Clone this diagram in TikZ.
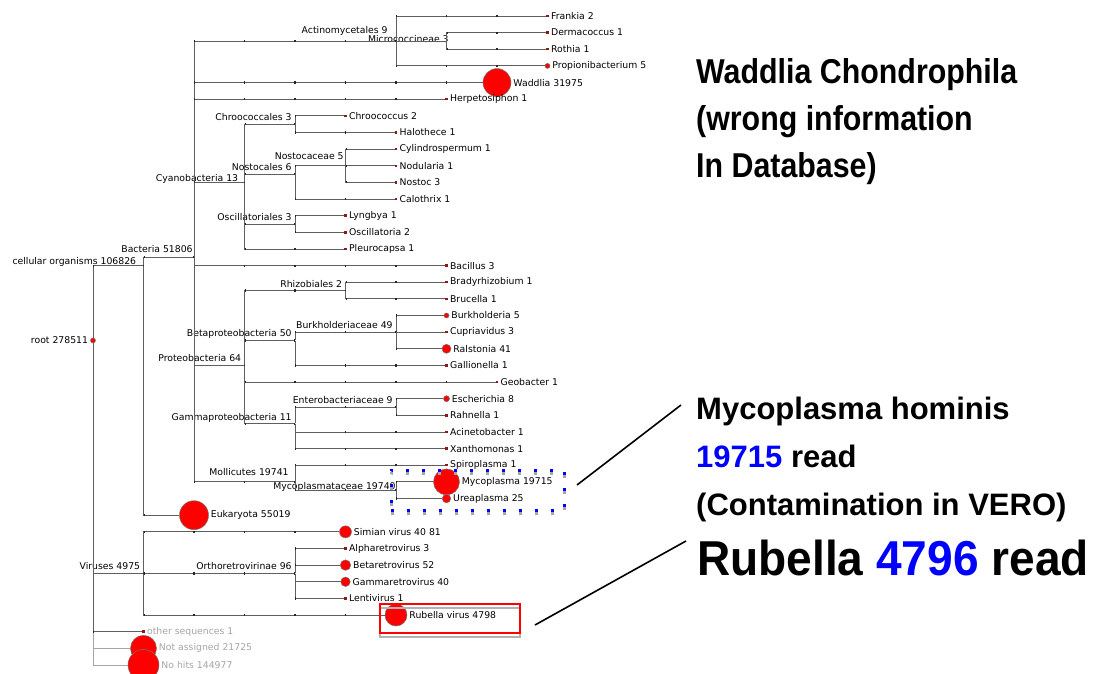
\documentclass[tikz,border=0pt]{standalone}
\usepackage{fontspec}
\setmainfont{DejaVu Sans}
\newfontfamily\notefont[FakeStretch=0.88]{Liberation Sans}
\newfontfamily\widenotefont{Liberation Sans}
\newfontfamily\bignotefont[FakeStretch=0.94]{Liberation Sans}
\usepackage{xcolor}
\usepackage{tikz}
\definecolor{treeGrey}{RGB}{95,95,95}
\definecolor{tipRed}{RGB}{140,25,25}
\definecolor{hitRed}{RGB}{255,0,0}
\definecolor{faintGrey}{RGB}{165,165,165}
\definecolor{noteBlue}{RGB}{0,0,255}

\begin{document}
\begin{tikzpicture}[
  x=1pt, y=-1pt,
  font=\fontsize{9.3}{11}\selectfont,
  junction/.style={inner sep=0pt, minimum size=0pt},
  tip/.style={rectangle, fill=tipRed, inner sep=0pt, minimum size=2.4pt},
  hit/.style={circle, fill=hitRed, draw=black!55, line width=0.5pt, inner sep=0pt, minimum size=#1},
  leaflab/.style={inner sep=0.5pt, label distance=1.5pt},
  faintlab/.style={leaflab, text=faintGrey},
  intlab/.style={anchor=base east, inner sep=0pt, xshift=-3pt, yshift=3.5pt},
  edge/.style={draw=treeGrey, line width=0.9pt},
  faintedge/.style={draw=faintGrey, line width=0.9pt},
  ticks/.style={draw=black!85, line width=2.2pt, dash pattern=on 1.6pt off 48.9pt, dash phase=0.8pt},
  note/.style={align=left, inner sep=0pt},
  dotbox/.style={draw=noteBlue, line width=3pt, dash pattern=on 3pt off 13pt,
                 minimum width=173pt, minimum height=40pt, inner sep=0pt},
  dotboxshade/.style={dotbox, draw=black!35, yshift=-3pt},
  redbox/.style={draw=hitRed, line width=1.5pt, minimum width=140pt, minimum height=29pt, inner sep=0pt},
  redboxshade/.style={redbox, draw=black!30, yshift=-4pt},
  callout/.style={draw=black, line width=1.6pt}
]
\useasboundingbox (0,0) rectangle (1096,674);

\begin{scope}[x=50.5pt, y=-16.64pt, shift={(93pt,-16pt)}]
% inner taxa
\node[hit=5pt, label={[leaflab]left:root 278511}] (root) at (0,19.5) {};
\node[junction, label={[intlab, xshift=-4pt, yshift=-2.5pt]left:cellular organisms 106826}] (cellular) at (1,15) {};
\node[junction, label={[intlab, xshift=2pt, yshift=1pt]left:Bacteria 51806}] (bacteria) at (2,14.5) {};
\node[junction, label={[intlab, xshift=-5pt, yshift=4pt]left:Actinomycetales 9}] (actino) at (6,1.5) {};
\node[junction, label={[intlab, xshift=5.5pt, yshift=-5pt]left:Micrococcineae 3}] (micro) at (7,1.5) {};
\node[junction, label={[intlab, xshift=-3pt, yshift=-3pt]left:Cyanobacteria 13}] (cyano) at (3,10) {};
\node[junction, label={[intlab]left:Chroococcales 3}] (chrooc) at (4,6.5) {};
\node[junction, label={[intlab]left:Nostocales 6}] (nostocales) at (4,9.5) {};
\node[junction, label={[intlab, xshift=1.5pt, yshift=3pt]left:Nostocaceae 5}] (nostocaceae) at (5,9) {};
\node[junction, label={[intlab]left:Oscillatoriales 3}] (oscill) at (4,12.5) {};
\node[junction, label={[intlab]left:Proteobacteria 64}] (proteo) at (3,21) {};
\node[junction, label={[intlab]left:Rhizobiales 2}] (rhizo) at (5,16.5) {};
\node[junction, label={[intlab]left:Betaproteobacteria 50}] (betaproteo) at (4,19.5) {};
\node[junction, label={[intlab]left:Burkholderiaceae 49}] (burkhold) at (6,19) {};
\node[junction, label={[intlab]left:Gammaproteobacteria 11}] (gammaproteo) at (4,24.5) {};
\node[junction, label={[intlab]left:Enterobacteriaceae 9}] (entero) at (6,23.5) {};
\node[junction, label={[intlab, xshift=-3pt, yshift=3pt]left:Mollicutes 19741}] (mollicutes) at (4,28) {};
\node[junction, label={[intlab, xshift=3pt, yshift=-3pt]left:Mycoplasmataceae 19740}] (mycoplasmat) at (6,28.5) {};
\node[junction, label={[intlab]left:Viruses 4975}] (viruses) at (1,33.5) {};
\node[junction, label={[intlab]left:Orthoretrovirinae 96}] (orthoretro) at (4,33.5) {};

% leaves
\node[tip, label={[leaflab]right:Frankia 2}] (frankia) at (9,0) {};
\node[tip, label={[leaflab]right:Dermacoccus 1}] (dermaco) at (9,1) {};
\node[tip, label={[leaflab]right:Rothia 1}] (rothia) at (9,2) {};
\node[hit=5pt, label={[leaflab]right:Propionibacterium 5}] (propioni) at (9,3) {};
\node[hit=28pt, label={[leaflab]right:Waddlia 31975}] (waddlia) at (8,4) {};
\node[tip, label={[leaflab]right:Herpetosiphon 1}] (herpeto) at (7,5) {};
\node[tip, label={[leaflab]right:Chroococcus 2}] (chroococcus) at (5,6) {};
\node[tip, label={[leaflab]right:Halothece 1}] (halothece) at (6,7) {};
\node[tip, label={[leaflab]right:Cylindrospermum 1}] (cylindro) at (6,8) {};
\node[tip, label={[leaflab]right:Nodularia 1}] (nodularia) at (6,9) {};
\node[tip, label={[leaflab]right:Nostoc 3}] (nostoc) at (6,10) {};
\node[tip, label={[leaflab]right:Calothrix 1}] (calothrix) at (6,11) {};
\node[tip, label={[leaflab]right:Lyngbya 1}] (lyngbya) at (5,12) {};
\node[tip, label={[leaflab]right:Oscillatoria 2}] (oscillatoria) at (5,13) {};
\node[tip, label={[leaflab]right:Pleurocapsa 1}] (pleuro) at (5,14) {};
\node[tip, label={[leaflab]right:Bacillus 3}] (bacillus) at (7,15) {};
\node[tip, label={[leaflab]right:Bradyrhizobium 1}] (bradyrhizo) at (7,16) {};
\node[tip, label={[leaflab]right:Brucella 1}] (brucella) at (7,17) {};
\node[hit=5pt, label={[leaflab]right:Burkholderia 5}] (burkholderia) at (7,18) {};
\node[tip, label={[leaflab]right:Cupriavidus 3}] (cupriavidus) at (7,19) {};
\node[hit=9pt, label={[leaflab]right:Ralstonia 41}] (ralstonia) at (7,20) {};
\node[tip, label={[leaflab]right:Gallionella 1}] (gallionella) at (7,21) {};
\node[tip, label={[leaflab]right:Geobacter 1}] (geobacter) at (8,22) {};
\node[hit=6pt, label={[leaflab]right:Escherichia 8}] (escherichia) at (7,23) {};
\node[tip, label={[leaflab]right:Rahnella 1}] (rahnella) at (7,24) {};
\node[tip, label={[leaflab]right:Acinetobacter 1}] (acineto) at (7,25) {};
\node[tip, label={[leaflab]right:Xanthomonas 1}] (xantho) at (7,26) {};
\node[tip, label={[leaflab]right:Spiroplasma 1}] (spiro) at (7,27) {};
\node[hit=26pt, label={[leaflab]right:Mycoplasma 19715}] (mycoplasma) at (7,28) {};
\node[hit=8.5pt, label={[leaflab]right:Ureaplasma 25}] (ureaplasma) at (7,29) {};
\node[hit=29pt, label={[leaflab]right:Eukaryota 55019}] (eukaryota) at (2,30) {};
\node[hit=12pt, label={[leaflab]right:Simian virus 40 81}] (simian) at (5,31) {};
\node[tip, label={[leaflab]right:Alpharetrovirus 3}] (alpha) at (5,32) {};
\node[hit=10.5pt, label={[leaflab]right:Betaretrovirus 52}] (beta) at (5,33) {};
\node[hit=9.5pt, label={[leaflab]right:Gammaretrovirus 40}] (gamma) at (5,34) {};
\node[tip, label={[leaflab]right:Lentivirus 1}] (lenti) at (5,35) {};
\node[hit=22pt, label={[leaflab]right:Rubella virus 4798}] (rubella) at (6,36) {};
\node[tip, label={[faintlab]right:other sequences 1}] (other) at (1,37) {};
\node[hit=26pt, label={[faintlab]right:Not assigned 21725}] (notassigned) at (1,38) {};
\node[hit=31pt, label={[faintlab]right:No hits 144977}] (nohits) at (1,39) {};

% branches
\foreach \c in {notassigned, nohits} \draw[faintedge] (root) |- (\c);
\foreach \c in {cellular, viruses, other} \draw[edge] (root) |- (\c) (root |- \c) edge[ticks] (\c);
\foreach \c in {bacteria, eukaryota} \draw[edge] (cellular) |- (\c) (cellular |- \c) edge[ticks] (\c);
\foreach \c in {actino, waddlia, herpeto, cyano, bacillus, proteo, mollicutes}
  \draw[edge] (bacteria) |- (\c) (bacteria |- \c) edge[ticks] (\c);
\foreach \c in {frankia, micro, propioni} \draw[edge] (actino) |- (\c) (actino |- \c) edge[ticks] (\c);
\foreach \c in {dermaco, rothia} \draw[edge] (micro) |- (\c) (micro |- \c) edge[ticks] (\c);
\foreach \c in {chrooc, nostocales, oscill, pleuro} \draw[edge] (cyano) |- (\c) (cyano |- \c) edge[ticks] (\c);
\foreach \c in {chroococcus, halothece} \draw[edge] (chrooc) |- (\c) (chrooc |- \c) edge[ticks] (\c);
\foreach \c in {nostocaceae, calothrix} \draw[edge] (nostocales) |- (\c) (nostocales |- \c) edge[ticks] (\c);
\foreach \c in {cylindro, nodularia, nostoc} \draw[edge] (nostocaceae) |- (\c) (nostocaceae |- \c) edge[ticks] (\c);
\foreach \c in {lyngbya, oscillatoria} \draw[edge] (oscill) |- (\c) (oscill |- \c) edge[ticks] (\c);
\foreach \c in {rhizo, betaproteo, geobacter, gammaproteo} \draw[edge] (proteo) |- (\c) (proteo |- \c) edge[ticks] (\c);
\foreach \c in {bradyrhizo, brucella} \draw[edge] (rhizo) |- (\c) (rhizo |- \c) edge[ticks] (\c);
\foreach \c in {burkhold, gallionella} \draw[edge] (betaproteo) |- (\c) (betaproteo |- \c) edge[ticks] (\c);
\foreach \c in {burkholderia, cupriavidus, ralstonia} \draw[edge] (burkhold) |- (\c) (burkhold |- \c) edge[ticks] (\c);
\foreach \c in {entero, acineto, xantho} \draw[edge] (gammaproteo) |- (\c) (gammaproteo |- \c) edge[ticks] (\c);
\foreach \c in {escherichia, rahnella} \draw[edge] (entero) |- (\c) (entero |- \c) edge[ticks] (\c);
\foreach \c in {spiro, mycoplasmat} \draw[edge] (mollicutes) |- (\c) (mollicutes |- \c) edge[ticks] (\c);
\foreach \c in {mycoplasma, ureaplasma} \draw[edge] (mycoplasmat) |- (\c) (mycoplasmat |- \c) edge[ticks] (\c);
\foreach \c in {simian, orthoretro, rubella} \draw[edge] (viruses) |- (\c) (viruses |- \c) edge[ticks] (\c);
\foreach \c in {alpha, beta, gamma, lenti} \draw[edge] (orthoretro) |- (\c) (orthoretro |- \c) edge[ticks] (\c);
\end{scope}

% highlight boxes
\node[dotboxshade] (mycoshade) at (477.5,490) {};
\node[dotbox] (mycobox) at (477.5,490) {};
\node[redboxshade] (rubellashade) at (450,618.5) {};
\node[redbox] (rubellabox) at (450,618.5) {};

% notes
\node[note, font=\notefont\bfseries\fontsize{34.5}{47}\selectfont, anchor=north west] (waddlianote) at (696,58)
  {Waddlia Chondrophila\\(wrong information\\In Database)};
\node[note, font=\widenotefont\bfseries\fontsize{31}{48}\selectfont, anchor=north west] (myconote) at (696,397)
  {Mycoplasma hominis\\\textcolor{noteBlue}{19715} read\\(Contamination in VERO)};
\node[note, font=\bignotefont\bfseries\fontsize{49}{56}\selectfont, anchor=base west] (rubellanote) at (697,575)
  {Rubella \textcolor{noteBlue}{4796} read};

\coordinate (mycoend) at (577,485);
\coordinate (mycotip) at (681,405);
\coordinate (rubellaend) at (535,625);
\coordinate (rubellatip) at (686,541);
\draw[callout] (mycoend) -- (mycotip);
\draw[callout] (rubellaend) -- (rubellatip);

\end{tikzpicture}
\end{document}
